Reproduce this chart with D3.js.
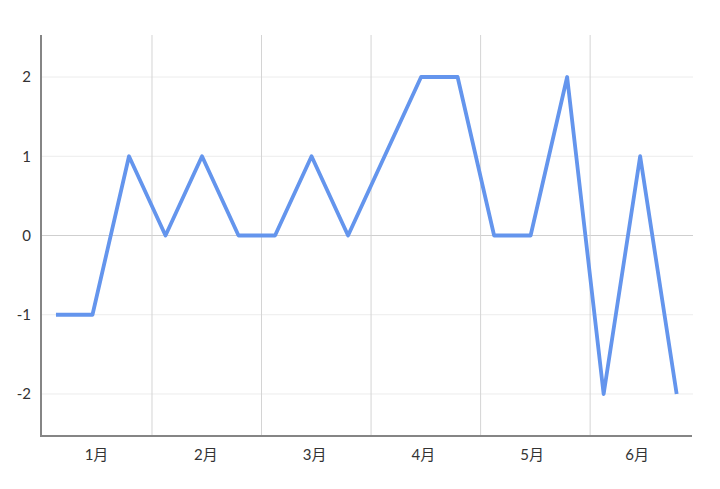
<!DOCTYPE html>
<html>
<head>
<meta charset="utf-8">
<script src="https://cdn.jsdelivr.net/npm/d3@7"></script>
<style>
  body { margin: 0; background: #fff; }
  text { font-family: Lato, "Noto Sans CJK JP", sans-serif; fill: #333; }
</style>
</head>
<body>
<svg id="chart" width="720" height="489"></svg>
<script>
const months = ["1月", "2月", "3月", "4月", "5月", "6月"];
const pointsPerMonth = 3;
const values = [-1, -1, 1, 0, 1, 0, 0, 1, 0, 1, 2, 2, 0, 0, 2, -2, 1, -2];
const yTicks = [-2, -1, 0, 1, 2];

const svg = d3.select("#chart");
const plotLeft = 41, plotRight = 692, plotTop = 35, plotBottom = 436;

// index scale, with a bit of padding either side of the points
let x = d3.scaleLinear()
    .domain([-0.41, values.length - 1 + 0.42])
    .range([plotLeft, plotRight]);

let y = d3.scaleLinear()
    .domain([-2.53, 2.53])
    .range([plotBottom, plotTop]);

// month boundaries sit a little after the midpoint between groups
let bounds = d3.range(1, months.length).map(k => k * pointsPerMonth - 0.37);
let edges = [x.domain()[0], ...bounds, x.domain()[1]];

// horizontal grid
svg.append("g")
    .selectAll("line")
    .data(yTicks)
    .enter().append("line")
    .attr("x1", plotLeft)
    .attr("x2", plotRight + 1)
    .attr("y1", d => y(d))
    .attr("y2", d => y(d))
    .style("stroke", d => d === 0 ? "#cfcfcf" : "#ececec")
    .style("stroke-width", 1);

// vertical month gridlines
svg.append("g")
    .selectAll("line")
    .data(bounds)
    .enter().append("line")
    .attr("x1", d => x(d))
    .attr("x2", d => x(d))
    .attr("y1", plotTop)
    .attr("y2", plotBottom)
    .style("stroke", "#d4d4d4")
    .style("stroke-width", 1);

// axis lines
svg.append("line")
    .attr("x1", plotLeft).attr("x2", plotLeft)
    .attr("y1", plotTop).attr("y2", plotBottom)
    .style("stroke", "#858585").style("stroke-width", 2);
svg.append("line")
    .attr("x1", plotLeft - 1).attr("x2", plotRight)
    .attr("y1", plotBottom).attr("y2", plotBottom)
    .style("stroke", "#858585").style("stroke-width", 2);

// y labels
svg.append("g")
    .selectAll("text")
    .data(yTicks)
    .enter().append("text")
    .attr("x", 31)
    .attr("y", d => y(d))
    .attr("dy", "0.36em")
    .attr("text-anchor", "end")
    .style("font-size", "15px")
    .text(d => d);

// month labels centred in their bands
svg.append("g")
    .selectAll("text")
    .data(months)
    .enter().append("text")
    .attr("x", (d, i) => x((edges[i] + edges[i + 1]) / 2) - i * 0.8)
    .attr("y", 460)
    .attr("text-anchor", "middle")
    .style("font-size", "15px")
    .text(d => d);

let line = d3.line()
    .x((d, i) => x(i))
    .y(d => y(d));

svg.append("path")
    .datum(values)
    .attr("d", line)
    .style("fill", "none")
    .style("stroke", "#6495ed")
    .style("stroke-width", 3.8)
    .style("stroke-linejoin", "round");
</script>
</body>
</html>
